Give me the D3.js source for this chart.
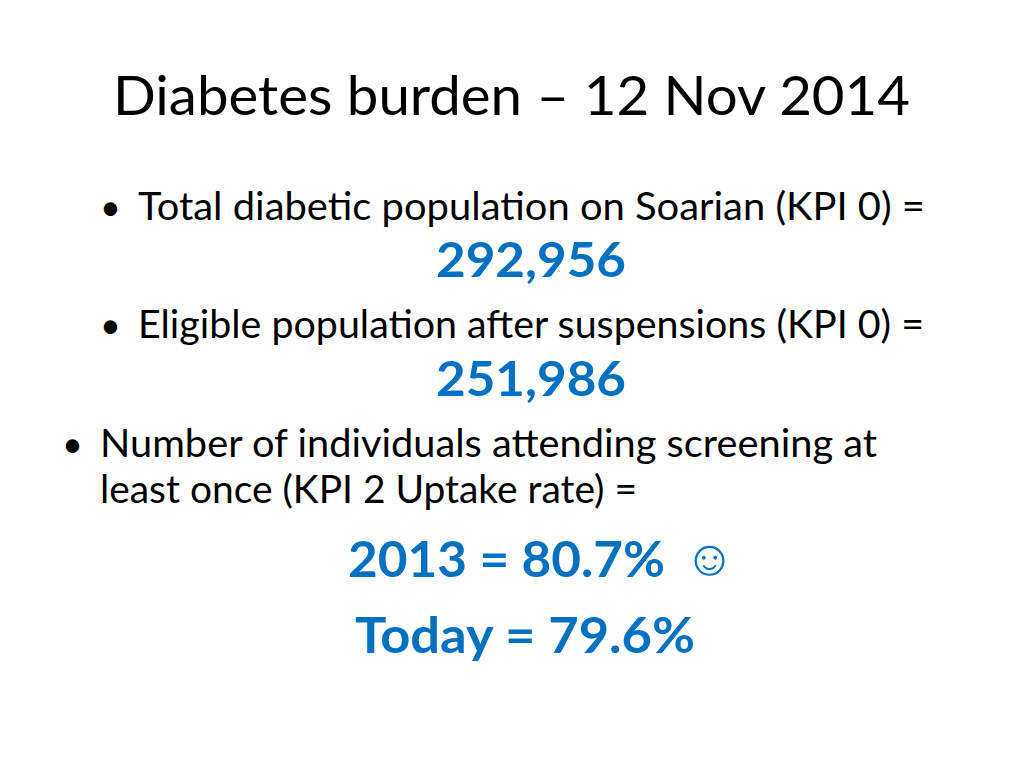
<!DOCTYPE html>
<html><head><meta charset="utf-8">
<script src="https://cdn.jsdelivr.net/npm/d3@7"></script>
<style>body{margin:0;background:#fff}</style>
</head><body><div id="slide"></div>
<script>
const title = "Diabetes burden – 12 Nov 2014";
const bulletLines = [
  ["Total diabetic population on Soarian (KPI 0)  ="],
  ["Eligible population after suspensions (KPI 0) ="],
  ["Number of individuals attending screening at", "least once (KPI 2 Uptake rate) ="]
];
const figures = ["292,956", "251,986"];
const uptake = ["2013 = 80.7%", "Today = 79.6%"];

const font = "Lato, 'Open Sans', sans-serif";
const blue = "#0070C0";

const svg = d3.select("#slide").append("svg")
    .attr("width", 1024).attr("height", 768)
    .style("font-family", font);

svg.append("text")
    .attr("x", 113).attr("y", 115)
    .attr("font-size", 54)
    .attr("textLength", 797).attr("lengthAdjust", "spacingAndGlyphs")
    .attr("fill", "#000")
    .text(title);

// bullet layout: indent x, baseline y, target widths of each line
const bulletX = [100, 100, 62];
const bulletY = [220, 338, 457];
const lineW = [[787], [786], [777, 537]];

bulletLines.forEach((lines, i) => {
    svg.append("text")
        .attr("x", bulletX[i]).attr("y", bulletY[i])
        .attr("font-size", 36).text("•");
    lines.forEach((l, j) => {
        svg.append("text")
            .attr("x", bulletX[i] + 38).attr("y", bulletY[i] + j * 46)
            .attr("font-size", 38).attr("fill", "#000")
            .attr("textLength", lineW[i][j]).attr("lengthAdjust", "spacingAndGlyphs")
            .text(l);
    });
});

const figY = [277, 396];
figures.forEach((f, i) => {
    svg.append("text")
        .attr("x", 436).attr("y", figY[i])
        .attr("font-size", 48).attr("font-weight", "bold")
        .attr("textLength", 190).attr("lengthAdjust", "spacingAndGlyphs")
        .attr("fill", blue).text(f);
});

const upX = [348, 355];
const upY = [577, 653];
const upW = [317, 340];
uptake.forEach((u, i) => {
    svg.append("text")
        .attr("x", upX[i]).attr("y", upY[i])
        .attr("font-size", 50).attr("font-weight", "bold")
        .attr("textLength", upW[i]).attr("lengthAdjust", "spacingAndGlyphs")
        .attr("fill", blue).text(u);
});
svg.append("text")
    .attr("x", 684).attr("y", 575)
    .attr("font-size", 50)
    .attr("fill", blue).text("\u263A");
</script>
</body></html>
